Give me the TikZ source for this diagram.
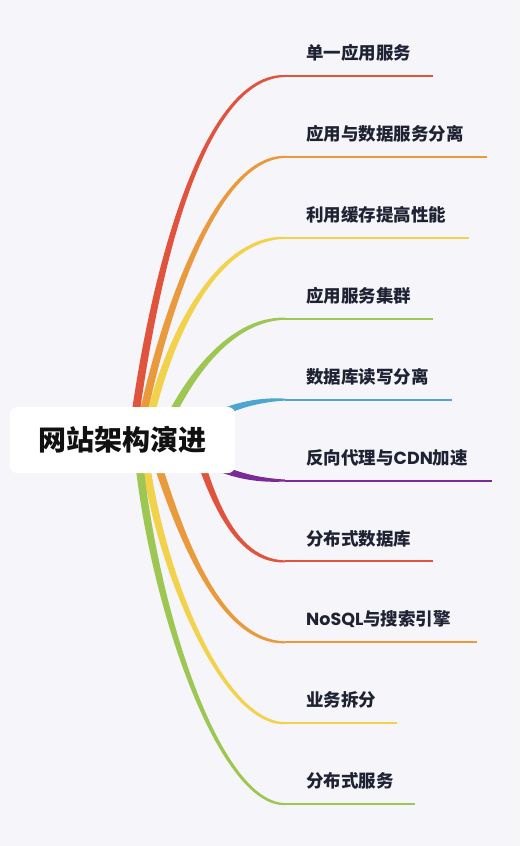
\documentclass[tikz,border=0pt]{standalone}
\usepackage{fontspec}
\usetikzlibrary{calc}
\newfontfamily\cjk{Noto Sans CJK SC}
\newfontfamily\lat{Poppins}
\definecolor{bgc}{RGB}{245,245,250}
\definecolor{cRed}{HTML}{E0533C}
\definecolor{cOrange}{HTML}{E99A3C}
\definecolor{cYellow}{HTML}{F2D24B}
\definecolor{cGreen}{HTML}{9DC652}
\definecolor{cBlue}{HTML}{4CA6CF}
\definecolor{cPurple}{HTML}{7B2A98}
\definecolor{labelc}{HTML}{1E2233}
\definecolor{rootc}{HTML}{111111}
\tikzset{
  lbl/.style={anchor=west, inner sep=0pt, text=labelc, font=\cjk\bfseries\fontsize{17.5}{20}\selectfont},
  rootbox/.style={fill=white, rounded corners=7pt, minimum width=225pt, minimum height=66pt, inner sep=0pt, text=rootc, font=\cjk\bfseries\fontsize{28}{32}\selectfont},
  uline/.style={line width=2pt}
}
\begin{document}
\begin{tikzpicture}[x=1pt,y=-1pt]
\fill[bgc] (0,0) rectangle (520,846);
\useasboundingbox (0,0) rectangle (520,846);
\foreach \i/\col/\xa/\ya/\xb/\yb/\xc/\ye/\xe/\txt in {
  1/cRed/132/440/155/260/205/76/433/{单一应用服务},
  2/cOrange/138/440/165/300/220/156.9/487/{应用与数据服务分离},
  3/cYellow/145/440/165/340/215/237.8/469/{利用缓存提高性能},
  4/cGreen/160/440/180/390/225/318.7/433/{应用服务集群},
  5/cBlue/190/430/220/410/250/399.6/452/{数据库读写分离},
  6/cPurple/190/452/220/472/250/480.5/492/{反向代理与{\lat CDN}加速},
  7/cRed/190/430/205/470/225/561.4/433/{分布式数据库},
  8/cOrange/150/440/175/520/215/642.3/477/{{\lat NoSQL}与搜索引擎},
  9/cYellow/143/440/155/560/220/723.2/397/{业务拆分},
  10/cGreen/137/440/150/600/218/804.1/415/{分布式服务}}{
  \coordinate (p0-\i) at (\xa,\ya);
  \coordinate (p1-\i) at (\xb,\yb);
  \coordinate (p2-\i) at (\xc,\ye);
  \coordinate (p3-\i) at (285,\ye);
  \coordinate (e-\i) at (\xe,\ye);
  \fill[\col] ($(p0-\i)!4pt!90:(p1-\i)$) .. controls ($(p1-\i)!4pt!-90:(p0-\i)$) and ($(p2-\i)!3pt!90:(p3-\i)$) .. ($(p3-\i)!1pt!-90:(p2-\i)$)
     -- ($(p3-\i)!1pt!90:(p2-\i)$) .. controls ($(p2-\i)!3pt!-90:(p3-\i)$) and ($(p1-\i)!4pt!90:(p0-\i)$) .. ($(p0-\i)!4pt!-90:(p1-\i)$) -- cycle;
  \draw[\col, uline] (p3-\i) -- (e-\i);
  \node[lbl] (t-\i) at (306,\ye-23) {\txt};
}
\node[rootbox] (root) at (122.5,440) {网站架构演进};
\end{tikzpicture}
\end{document}
